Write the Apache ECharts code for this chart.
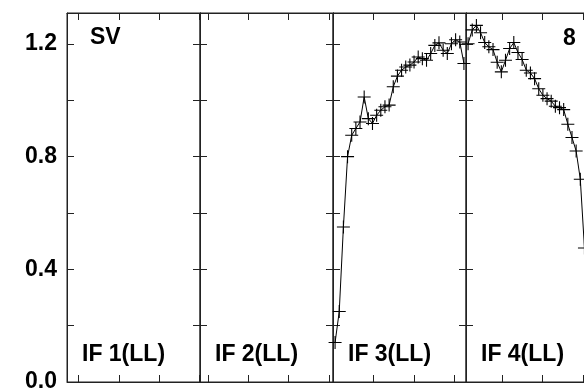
<!DOCTYPE html>
<html><head><meta charset="utf-8">
<script src="https://cdn.jsdelivr.net/npm/echarts@6/dist/echarts.min.js"></script>
<style>html,body{margin:0;padding:0;background:#fff;overflow:hidden}#c{width:620px;height:391px}</style>
</head><body><div id="c"></div>
<script>
// ---- data ----
const panelLabels = ['IF 1(LL)', 'IF 2(LL)', 'IF 3(LL)', 'IF 4(LL)'];
const sourceLabel = 'SV';
const cornerLabel = '8';
const if1 = [];
const if2 = [];
const if3 = [0.14, 0.25, 0.55, 0.80, 0.876, 0.90, 0.923, 1.012, 0.935, 0.918, 0.947, 0.965, 0.977, 0.983, 1.048, 1.086,
             1.107, 1.118, 1.125, 1.136, 1.154, 1.148, 1.142, 1.166, 1.195, 1.204, 1.178, 1.166, 1.201, 1.215, 1.207, 1.131];
const if4 = [1.201, 1.25, 1.266, 1.24, 1.205, 1.19, 1.18, 1.135, 1.101, 1.142, 1.184, 1.205, 1.17, 1.145, 1.107, 1.097,
             1.077, 1.041, 1.018, 1.006, 0.997, 0.979, 0.974, 0.967, 0.915, 0.868, 0.82, 0.72, 0.476];
const xTicks = [[2.79, 12.58, 22.21, 31.9], [1.92, 11.65, 21.27, 31.04], [9.79, 19.54, 29.28], [8.81, 18.43, 28.15]];
const yTicks = [0, 0.2, 0.4, 0.6, 0.8, 1.0, 1.2];
const yLabels = [0, 0.4, 0.8, 1.2];
const nChan = 32;
const yMax = 1.31;

// ---- layout ----
const panelLeft = [67, 200, 333, 466];
const panelW = 133, gridTop = 13, gridH = 369;
const seriesData = [if1, if2, if3, if4];
const lineCol = '#222';
const FONT = 'bold 23px "Liberation Sans", Arial, sans-serif';

const grid = [], xAxis = [], yAxis = [], series = [], graphic = [];
const plus = 'path://M-6,-0.5H6V0.5H-6Z M-0.5,-6H0.5V6H-0.5Z';
const nP = panelLeft.length;

// main panels: grids 0..3, bottom x axes 0..3, y axes 0..7 (left/right)
panelLeft.forEach((l, i) => {
  grid.push({left: l, width: panelW, top: gridTop, height: gridH, outerBoundsMode: 'none',
             show: true, borderColor: lineCol, borderWidth: 1, backgroundColor: 'transparent'});
  xAxis.push({
    gridIndex: i, type: 'value', min: 0, max: nChan, position: 'bottom',
    axisLine: {show: true, onZero: false, lineStyle: {color: lineCol, width: 1}},
    axisTick: {show: true, inside: true, length: 7, customValues: xTicks[i], lineStyle: {color: lineCol, width: 1}},
    axisLabel: {show: false}, splitLine: {show: false}
  });
  ['left', 'right'].forEach(pos => {
    yAxis.push({
      gridIndex: i, type: 'value', min: 0, max: yMax, position: pos,
      axisLine: {show: true, onZero: false, lineStyle: {color: lineCol, width: 1}},
      axisTick: {show: true, inside: true, length: 7, customValues: yTicks, lineStyle: {color: lineCol, width: 1}},
      axisLabel: {
        show: (i === 0 && pos === 'left'), customValues: yLabels,
        formatter: v => Number(v).toFixed(1),
        fontSize: 23, fontWeight: 'bold', color: '#000', margin: 10,
        fontFamily: '"Liberation Sans", Arial, sans-serif'
      },
      splitLine: {show: false}
    });
  });
  series.push({
    type: 'line', xAxisIndex: i, yAxisIndex: 2 * i,
    data: seriesData[i].map((v, k) => [k + 0.5, v]),
    symbol: plus, symbolSize: 13, showAllSymbol: true, clip: false,
    lineStyle: {color: '#000', width: 1}, itemStyle: {color: '#000'},
    animation: false
  });
  graphic.push({type: 'text', x: l + 15, y: 355,
    style: {text: panelLabels[i], font: FONT, fill: '#000', textVerticalAlign: 'middle'}});
});

// top-edge tick strips: grids 4..7 whose bottom edge is the panels' top edge;
// their bottom x axes carry the top ticks, pointing down into the panels
panelLeft.forEach((l, i) => {
  grid.push({left: l, width: panelW, top: 0, height: gridTop, outerBoundsMode: 'none', show: false});
  xAxis.push({
    gridIndex: nP + i, type: 'value', min: 0, max: nChan, position: 'bottom',
    axisLine: {show: true, onZero: false, lineStyle: {color: lineCol, width: 1}},
    axisTick: {show: true, inside: false, length: 7, customValues: xTicks[i], lineStyle: {color: lineCol, width: 1}},
    axisLabel: {show: false}, splitLine: {show: false}
  });
  yAxis.push({gridIndex: nP + i, type: 'value', min: 0, max: 1, show: false});
});

graphic.push({type: 'text', x: 90, y: 38, style: {text: sourceLabel, font: FONT, fill: '#000', textVerticalAlign: 'middle'}});
graphic.push({type: 'text', x: 563, y: 39, style: {text: cornerLabel, font: FONT, fill: '#000', textVerticalAlign: 'middle'}});

const chart = echarts.init(document.getElementById('c'), null, {renderer: 'canvas'});
chart.setOption({animation: false, backgroundColor: '#fff', grid, xAxis, yAxis, series, graphic});
</script></body></html>
